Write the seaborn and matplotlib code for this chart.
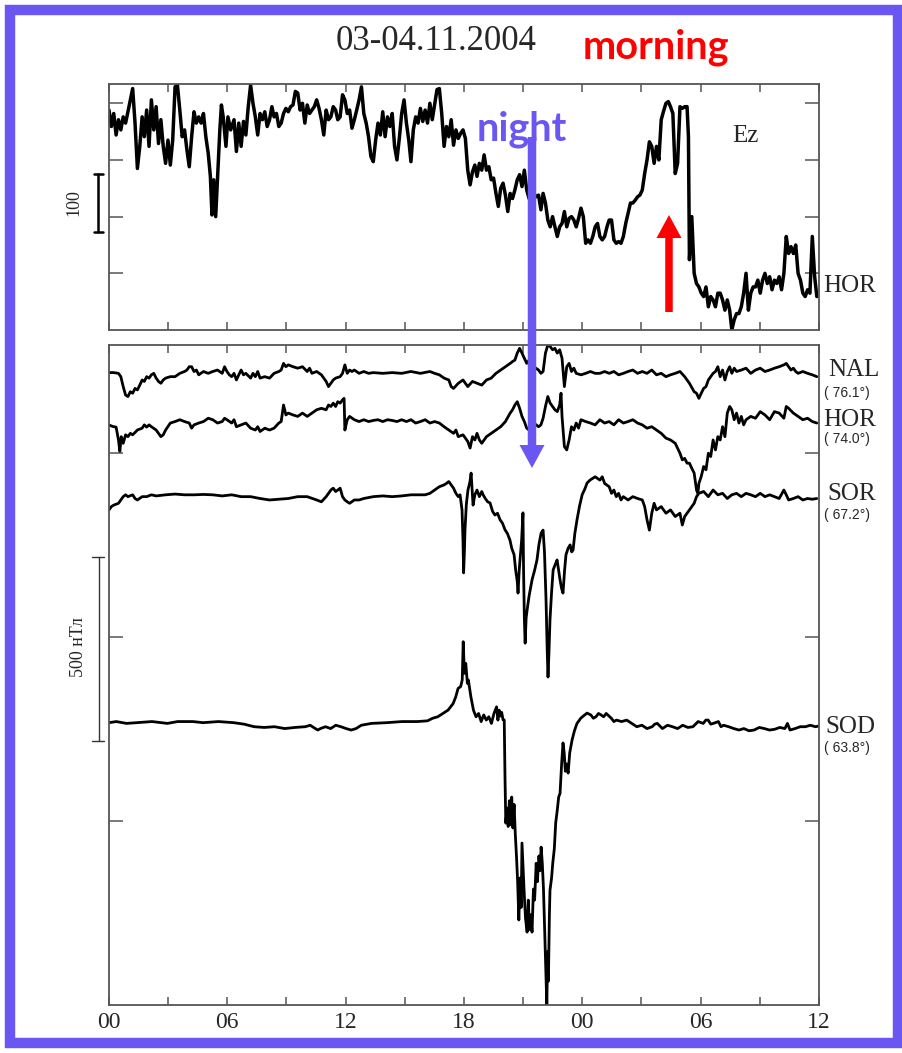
import numpy as np
import pandas as pd
import matplotlib
matplotlib.use("Agg")
import matplotlib.pyplot as plt
import seaborn as sns
from matplotlib.patches import Rectangle, FancyArrow
import matplotlib.transforms as mtransforms

# ---------------- data (hours from 00 UT 03.11.2004, values in nT) ----------------
title = "03-04.11.2004"
hour_ticks = [0, 6, 12, 18, 24, 30, 36]
hour_labels = ["00", "06", "12", "18", "00", "06", "12"]

# top panel: HOR Ez component
ez_t = [0.00,0.12,0.24,0.36,0.48,0.60,0.72,0.84,0.96,1.08,
        1.20,1.32,1.44,1.56,1.68,1.79,1.91,2.03,2.15,2.27,
        2.39,2.51,2.63,2.75,2.87,2.99,3.11,3.23,3.35,3.47,
        3.59,3.71,3.83,3.95,4.07,4.19,4.31,4.43,4.55,4.67,
        4.79,4.91,5.03,5.14,5.22,5.31,5.41,5.50,5.62,5.70,
        5.79,5.93,6.03,6.17,6.34,6.46,6.58,6.70,6.82,6.94,
        7.06,7.18,7.30,7.42,7.54,7.66,7.78,7.90,8.02,8.14,
        8.26,8.37,8.49,8.61,8.73,8.85,8.97,9.09,9.21,9.33,
        9.45,9.57,9.69,9.81,9.93,10.05,10.17,10.29,10.41,10.53,
        10.65,10.77,10.89,11.01,11.13,11.25,11.37,11.49,11.60,11.72,
        11.84,11.96,12.08,12.20,12.32,12.44,12.56,12.68,12.80,12.92,
        13.04,13.16,13.28,13.40,13.52,13.64,13.76,13.88,14.00,14.12,
        14.24,14.36,14.48,14.60,14.72,14.84,14.96,15.08,15.20,15.31,
        15.43,15.55,15.67,15.79,15.91,16.03,16.15,16.27,16.39,16.51,
        16.63,16.75,16.87,16.99,17.11,17.23,17.35,17.47,17.59,17.71,
        17.83,17.95,18.07,18.19,18.31,18.43,18.55,18.66,18.78,18.90,
        19.02,19.14,19.26,19.38,19.50,19.62,19.74,19.86,19.98,20.10,
        20.22,20.34,20.46,20.58,20.70,20.82,20.94,21.06,21.18,21.30,
        21.42,21.54,21.66,21.78,21.90,22.01,22.13,22.25,22.37,22.49,
        22.61,22.73,22.85,22.97,23.09,23.21,23.33,23.45,23.57,23.69,
        23.81,23.93,24.05,24.17,24.29,24.41,24.53,24.65,24.77,24.89,
        25.01,25.13,25.25,25.36,25.48,25.60,25.72,25.84,25.96,26.08,
        26.20,26.32,26.44,26.56,26.68,26.80,26.92,27.04,27.16,27.28,
        27.40,27.52,27.64,27.76,27.88,28.00,28.11,28.24,28.36,28.47,
        28.59,28.71,28.83,28.95,29.07,29.19,29.31,29.38,29.43,29.55,
        29.67,29.79,29.91,30.03,30.15,30.27,30.39,30.51,30.63,30.75,
        30.87,30.99,31.11,31.23,31.35,31.47,31.58,31.70,31.82,31.94,
        32.06,32.18,32.30,32.42,32.54,32.66,32.78,32.90,33.02,33.14,
        33.26,33.38,33.50,33.62,33.74,33.86,33.98,34.10,34.22,34.34,
        34.46,34.58,34.70,34.82,34.94,35.06,35.18,35.30,35.42,35.54,
        35.66,35.78,35.89]
ez_v = [188,159,182,144,171,153,176,165,185,206,
        226,165,85,124,176,141,188,124,206,153,
        194,129,171,124,94,135,91,135,229,232,
        188,141,153,118,88,141,185,165,176,165,
        182,141,112,71,3,65,0,65,153,197,
        176,124,176,153,171,115,165,124,168,144,
        194,232,200,176,144,182,171,185,159,171,
        194,176,182,159,165,182,191,185,194,197,
        221,218,188,200,165,197,182,188,194,206,
        191,171,144,188,171,176,194,188,171,176,
        215,206,182,188,156,171,188,206,229,182,
        165,141,106,97,135,165,144,185,141,176,
        159,182,124,100,138,182,206,165,135,97,
        153,176,165,191,168,188,165,200,171,197,
        224,226,182,124,159,141,171,126,153,138,
        147,153,138,82,56,79,91,71,94,82,
        109,82,88,65,68,41,18,50,59,38,
        9,41,32,47,65,74,53,82,47,32,
        26,41,35,38,12,41,24,-6,-18,0,
        -18,-35,-18,-12,9,-18,-3,0,-6,-18,
        -3,15,0,-47,-41,-47,-35,-18,-12,-35,
        -41,-35,-18,-6,-6,-41,-47,-44,-47,-35,
        -12,6,24,24,29,35,38,47,76,100,
        132,124,94,124,100,171,185,200,203,194,
        182,76,94,194,191,194,194,141,-76,0,
        -100,-118,-124,-135,-141,-124,-159,-141,-147,-159,
        -135,-135,-147,-165,-147,-165,-200,-182,-171,-171,
        -159,-135,-100,-165,-135,-124,-124,-112,-135,-112,
        -100,-118,-106,-129,-112,-118,-106,-129,-100,-35,
        -65,-53,-65,-50,-100,-112,-135,-141,-129,-135,
        -35,-106,-141]

# bottom panel: variations of the meridian chain (nT, relative to own baseline)
stations = ["NAL", "HOR", "SOR", "SOD"]
latitudes = ["76.1°", "74.0°", "67.2°", "63.8°"]

nal_t = [0.00,0.24,0.48,0.60,0.72,0.84,0.96,1.08,1.20,1.32,
         1.44,1.56,1.68,1.79,1.91,2.03,2.15,2.27,2.39,2.51,
         2.63,2.75,2.87,3.11,3.35,3.59,3.83,3.95,4.07,4.19,
         4.31,4.43,4.55,4.79,5.03,5.26,5.50,5.74,5.86,5.98,
         6.10,6.22,6.34,6.46,6.58,6.70,6.82,6.94,7.18,7.30,
         7.42,7.54,7.66,7.90,8.14,8.37,8.61,8.73,8.85,8.97,
         9.09,9.33,9.57,9.81,10.05,10.17,10.29,10.53,10.77,11.01,
         11.13,11.25,11.37,11.49,11.72,11.84,11.96,12.08,12.20,12.32,
         12.44,12.68,12.92,13.16,13.40,13.88,14.36,14.84,15.31,15.79,
         16.27,16.51,16.75,16.99,17.23,17.35,17.47,17.71,17.95,18.07,
         18.19,18.43,18.66,18.90,19.14,19.38,19.62,19.86,20.10,20.34,
         20.46,20.58,20.70,20.82,20.94,21.06,21.18,21.30,21.54,21.78,
         21.90,22.01,22.13,22.25,22.37,22.49,22.61,22.73,22.85,22.97,
         23.09,23.21,23.33,23.45,23.57,23.69,23.93,24.17,24.41,24.65,
         24.89,25.13,25.36,25.60,25.84,26.08,26.32,26.56,26.80,27.04,
         27.28,27.52,27.76,28.00,28.24,28.47,28.71,28.95,29.19,29.43,
         29.67,29.79,29.91,30.03,30.15,30.27,30.39,30.51,30.63,30.75,
         30.87,30.99,31.11,31.23,31.35,31.47,31.58,31.70,31.82,32.06,
         32.30,32.54,32.78,33.02,33.26,33.50,33.74,33.98,34.22,34.34,
         34.46,34.58,34.70,34.82,34.94,35.18,35.42,35.66,35.89]
nal_v = [0,0,-2,-11,-38,-61,-65,-52,-56,-43,
         -47,-34,-20,-24,-11,-15,-6,-2,-15,-24,
         -29,-20,-15,-11,-11,-2,3,7,16,16,
         3,7,-6,3,-2,3,7,-2,16,3,
         -6,-11,-2,-20,-6,7,-6,-2,-15,-2,
         -11,3,-15,-11,-15,-2,3,7,25,16,
         21,16,12,16,3,12,-2,3,-6,-24,
         -38,-29,-20,-15,-11,-2,21,-2,7,3,
         7,-2,3,-2,0,-2,0,-2,3,-2,
         3,-2,-6,-15,-20,-38,-43,-29,-20,-29,
         -38,-24,-29,-34,-20,-15,-2,7,16,25,
         30,34,53,66,53,39,25,34,16,7,
         -2,3,53,75,71,62,66,53,62,39,
         -38,16,25,3,12,-2,-6,-2,3,-2,
         -2,3,-2,3,-6,-2,3,7,-2,3,
         -2,7,-6,-2,-11,-6,-2,3,-11,-29,
         -52,-56,-70,-56,-43,-38,-20,-11,-2,3,
         16,-11,7,-20,3,16,-2,12,3,7,
         12,-2,7,12,3,7,12,16,21,25,
         16,7,12,3,-2,3,-2,-6,-11]

hor_t = [0.00,0.12,0.24,0.36,0.48,0.55,0.62,0.72,0.84,0.96,
         1.08,1.20,1.44,1.68,1.79,1.91,2.03,2.15,2.39,2.51,
         2.63,2.75,2.87,3.11,3.35,3.59,3.83,4.07,4.19,4.31,
         4.55,4.79,5.03,5.26,5.50,5.74,5.86,5.98,6.22,6.34,
         6.46,6.70,6.94,7.18,7.42,7.54,7.66,7.90,8.14,8.37,
         8.61,8.73,8.85,8.97,9.09,9.33,9.57,9.81,10.05,10.29,
         10.53,10.77,11.01,11.13,11.25,11.37,11.49,11.60,11.72,11.84,
         11.92,11.96,12.08,12.20,12.44,12.68,12.92,13.16,13.40,13.64,
         13.88,14.12,14.36,14.60,14.84,15.08,15.31,15.55,15.79,16.03,
         16.27,16.51,16.75,16.99,17.23,17.47,17.59,17.71,17.95,18.19,
         18.31,18.43,18.55,18.66,18.78,18.90,19.14,19.38,19.62,19.86,
         20.10,20.34,20.46,20.58,20.70,20.82,20.94,21.06,21.18,21.30,
         21.54,21.78,21.90,22.01,22.13,22.25,22.37,22.49,22.61,22.73,
         22.85,22.92,22.97,23.09,23.21,23.33,23.45,23.57,23.69,23.81,
         23.93,24.17,24.41,24.65,24.89,25.13,25.36,25.60,25.84,26.08,
         26.32,26.56,26.80,27.04,27.28,27.52,27.76,28.00,28.24,28.47,
         28.71,28.95,29.07,29.19,29.31,29.43,29.55,29.67,29.79,29.86,
         29.91,30.03,30.15,30.27,30.39,30.51,30.63,30.75,30.87,30.99,
         31.11,31.23,31.35,31.47,31.58,31.70,31.82,31.94,32.06,32.18,
         32.30,32.54,32.78,33.02,33.26,33.50,33.74,33.98,34.22,34.34,
         34.46,34.70,34.94,35.18,35.42,35.66,35.89]
hor_v = [0,-3,-5,-6,-41,-72,-32,-50,-27,-32,
         -23,-27,-14,-9,0,-6,0,-5,-14,-23,
         -32,-27,-14,5,9,14,9,5,-9,0,
         5,9,18,14,5,9,18,14,5,14,
         -5,0,5,-9,-14,-5,-18,-9,-14,-9,
         5,9,54,27,32,27,23,32,23,32,
         41,45,41,54,50,59,50,63,59,68,
         72,-14,14,23,14,9,14,9,12,14,
         9,14,12,9,14,9,14,5,9,14,
         5,9,5,-5,-14,-23,-14,-32,-27,-45,
         -63,-32,-41,-23,-41,-50,-32,-23,-14,-5,
         9,32,41,54,63,45,23,9,-9,-14,
         5,-5,0,18,50,77,59,50,41,36,
         54,86,23,-59,-68,-41,-5,-14,5,-9,
         14,9,5,0,14,5,9,0,14,5,
         9,14,5,0,-9,-5,-14,-23,-36,-41,
         -50,-77,-95,-91,-104,-104,-118,-131,-177,-186,
         -159,-140,-113,-122,-77,-86,-41,-68,-32,-41,
         -5,-32,32,50,41,14,32,5,23,0,
         14,23,18,36,27,14,36,32,18,50,
         45,32,23,14,18,9,5]

sor_t = [0.00,0.12,0.24,0.48,0.60,0.72,0.84,0.96,1.20,1.32,
         1.44,1.68,1.91,2.15,2.39,2.87,3.35,3.83,4.31,4.79,
         5.26,5.74,6.22,6.70,7.18,7.66,8.14,8.61,9.09,9.57,
         10.05,10.53,10.77,11.01,11.13,11.25,11.37,11.49,11.60,11.72,
         11.84,11.96,12.08,12.20,12.44,12.68,12.92,13.40,13.88,14.36,
         14.84,15.31,15.79,16.03,16.27,16.51,16.75,16.99,17.11,17.23,
         17.35,17.47,17.59,
         17.71,17.80,17.90,17.95,17.98,18.02,18.05,18.12,18.20,18.30,
         18.36,18.42,18.46,18.55,18.66,18.78,18.90,18.97,19.08,19.20,
         19.32,19.45,19.57,19.70,19.83,19.95,20.08,20.20,20.33,20.42,
         20.54,20.62,20.70,20.74,20.80,20.84,20.92,20.99,21.02,21.06,
         21.10,21.15,21.20,21.30,21.45,21.58,21.70,21.80,21.91,22.01,
         22.08,22.16,22.22,22.26,22.31,22.36,22.44,22.52,22.62,22.72,
         22.80,22.87,22.95,23.02,23.10,23.17,23.28,23.38,23.46,23.53,
         23.62,23.73,23.86,23.99,24.12,24.24,24.39,
         24.65,24.89,25.01,25.13,25.36,25.48,25.60,
         25.72,25.84,25.96,26.08,26.32,26.56,26.80,27.04,27.16,27.28,
         27.40,27.52,27.64,27.76,28.00,28.24,28.47,28.71,28.95,29.07,
         29.19,29.43,29.67,29.79,29.91,30.15,30.39,30.63,30.87,31.11,
         31.35,31.58,31.82,32.06,32.30,32.54,32.78,33.02,33.26,33.50,
         33.74,33.98,34.22,34.34,34.46,34.70,34.94,35.18,35.42,35.66,
         35.89]
sor_v = [-36,-27,-23,-18,-9,0,5,0,5,-5,
         -9,0,0,5,2,5,7,5,5,6,
         5,2,5,0,0,-5,-9,-7,-5,0,
         0,-9,-14,0,9,18,23,14,18,23,
         0,-9,-14,-18,-9,-9,-5,0,2,0,
         2,5,5,5,9,18,27,32,36,41,
         32,23,9,
         0,5,-36,-120,-207,-150,-90,-20,18,40,
         64,10,-23,5,18,0,14,5,-5,-14,
         -17,-40,-50,-45,-63,-72,-90,-100,-118,-140,
         -158,-200,-230,-262,-200,-172,-120,-44,-200,-330,
         -398,-330,-308,-270,-226,-200,-172,-130,-99,-91,
         -150,-281,-420,-490,-420,-335,-260,-199,-185,-172,
         -200,-226,-250,-262,-200,-158,-140,-131,-150,-145,
         -100,-63,-25,5,20,37,45,
         54,45,54,36,27,9,18,
         0,9,-9,0,-9,0,-5,-9,-27,-63,
         -91,-45,-18,-36,-27,-45,-36,-54,-45,-77,
         -54,-36,-18,0,9,14,0,18,5,9,
         -5,5,9,0,9,5,0,9,0,5,
         0,-5,18,5,-9,-5,0,-9,-5,-7,
         -5]

sod_t = [0.00,0.37,0.89,1.41,2.18,2.96,3.48,4.25,4.77,5.55,
         6.32,6.84,7.36,7.87,8.39,8.91,9.43,9.95,10.20,10.46,
         10.59,10.72,10.98,11.24,11.50,11.76,12.02,12.28,12.53,12.79,
         13.31,14.09,14.86,15.64,16.15,16.41,16.67,16.93,17.19,17.45,
         17.58,17.70,17.83,17.91,17.96,18.02,18.09,18.17,18.22,18.35,
         18.48,18.61,18.74,18.87,19.00,19.13,19.26,19.39,
         19.52,19.65,19.72,19.78,19.85,19.91,19.98,20.04,20.08,20.12,
         20.18,20.24,20.30,20.36,20.42,20.48,20.54,20.60,20.66,20.72,
         20.78,20.84,20.90,20.94,21.00,21.06,21.12,21.20,21.26,21.32,
         21.38,21.45,21.52,21.58,21.66,21.72,21.80,21.86,21.91,21.97,
         22.03,22.09,22.14,22.20,22.24,22.28,22.33,22.36,22.44,22.50,
         22.58,22.65,22.72,22.80,22.87,22.95,23.02,23.08,23.14,23.20,
         23.28,23.36,23.48,23.60,23.73,23.92,24.05,24.24,
         24.43,24.56,24.69,24.82,24.95,25.08,25.21,25.47,25.60,25.73,25.99,26.25,
         26.50,26.76,27.02,27.28,27.54,27.67,27.80,28.06,28.32,28.57,
         28.83,29.09,29.35,29.61,29.87,30.13,30.26,30.38,30.51,30.64,
         30.90,31.03,31.16,31.42,31.68,31.94,32.19,32.45,32.71,32.97,
         33.23,33.49,33.75,34.01,34.27,34.40,34.53,34.79,35.05,35.31,
         35.56,35.82,36.00]
sod_v = [2,5,0,2,5,0,5,5,2,5,
         2,-2,-9,-11,-9,-14,-11,-9,-5,-14,
         -18,-14,-9,-14,-5,-9,-14,-18,-14,-5,
         0,2,5,5,7,14,18,27,36,54,
         72,95,100,118,222,136,163,109,118,72,
         36,18,27,5,23,9,18,0,
         27,45,9,36,20,30,10,9,-150,-271,
         -230,-280,-210,-275,-200,-284,-220,-300,-360,-430,
         -534,-420,-500,-325,-400,-470,-530,-567,-480,-560,
         -520,-567,-450,-480,-380,-430,-360,-400,-336,-380,
         -450,-560,-650,-766,-620,-700,-520,-453,-420,-380,
         -340,-270,-240,-200,-190,-110,-53,-80,-130,-110,
         -135,-80,-45,-20,0,14,20,28,
         23,14,18,27,23,18,27,14,5,9,5,9,
         0,-9,-5,-14,-9,-2,0,-14,-5,-9,
         -14,-5,-11,-9,5,0,9,9,-2,0,
         5,-9,-5,-9,-14,-18,-14,-20,-18,-11,
         -14,-18,-16,-11,-14,0,-18,-14,-9,-9,
         -5,-9,-7]

# ---------------- layout / style ----------------
station_offsets = [718, 576, 381, -235]   # vertical stacking of the traces (nT)
BLUE = "#6a56f0"
RED = "#ff0000"
SPINE = "#555555"

sns.set_style("white")
plt.rcParams["font.family"] = ["Liberation Serif", "DejaVu Serif"]

W, H = 903, 1053
fig = plt.figure(figsize=(W / 100, H / 100), dpi=100)
fig.patch.set_facecolor("white")


def fbox(x0, y0, x1, y1):
    return [x0 / W, 1 - y1 / H, (x1 - x0) / W, (y1 - y0) / H]


ax_top = fig.add_axes(fbox(109, 84, 819, 330))
ax_bot = fig.add_axes(fbox(109, 345, 819, 1005))

# top trace
df_ez = pd.DataFrame({"t": ez_t, "v": ez_v})
sns.lineplot(data=df_ez, x="t", y="v", ax=ax_top, color="black", lw=2.5,
             sort=False, estimator=None)

# bottom traces
series = {"NAL": (nal_t, nal_v), "HOR": (hor_t, hor_v),
          "SOR": (sor_t, sor_v), "SOD": (sod_t, sod_v)}
frames = []
for name, off in zip(stations, station_offsets):
    tt, vv = series[name]
    frames.append(pd.DataFrame({"t": tt, "y": np.asarray(vv) + off, "station": name}))
df_bot = pd.concat(frames, ignore_index=True)
sns.lineplot(data=df_bot, x="t", y="y", units="station", estimator=None, sort=False,
             ax=ax_bot, color="black", lw=2.0)

ax_top.set_ylim(-200, 234)
ax_top.set_yticks([-100, 0, 100, 200])
ax_bot.set_ylim(-1000, 793)
ax_bot.set_yticks([-500, 0, 500])

for ax in (ax_top, ax_bot):
    ax.set_xlim(0, 36)
    ax.set_xticks(hour_ticks)
    ax.set_xticks(np.arange(3, 36, 6), minor=True)
    ax.set_xlabel("")
    ax.set_ylabel("")
    ax.set_yticklabels([])
    ax.grid(False)
    ax.tick_params(axis="x", which="both", direction="in", length=5.5, width=1.1,
                   color=SPINE, top=True, bottom=True)
    ax.tick_params(axis="y", which="both", direction="in", length=10, width=1.1,
                   color=SPINE, left=True, right=True)
    for s in ax.spines.values():
        s.set_color(SPINE)
        s.set_linewidth(1.3)
    if ax.get_legend() is not None:
        ax.get_legend().remove()

ax_top.set_xticklabels([])
ax_bot.set_xticklabels(hour_labels, fontsize=17, fontfamily="Liberation Serif")
ax_bot.tick_params(axis="x", which="major", pad=5)

# scale bars
tr_top = mtransforms.blended_transform_factory(ax_top.transAxes, ax_top.transData)
ax_top.plot([-0.0155, -0.0155], [-27, 75], color="black", lw=1.8, transform=tr_top, clip_on=False)
for yv in (-27, 75):
    ax_top.plot([-0.0215, -0.0085], [yv, yv], color="black", lw=1.8, transform=tr_top, clip_on=False)
tr_bot = mtransforms.blended_transform_factory(ax_bot.transAxes, ax_bot.transData)
ax_bot.plot([-0.0134, -0.0134], [-283, 217], color="#333333", lw=1.0, transform=tr_bot, clip_on=False)
for yv in (-283, 217):
    ax_bot.plot([-0.024, -0.007], [yv, yv], color="#333333", lw=1.0, transform=tr_bot, clip_on=False)

# ---------------- overlay in pixel coordinates ----------------
ov = fig.add_axes([0, 0, 1, 1], zorder=10)
ov.set_xlim(0, W)
ov.set_ylim(H, 0)
ov.axis("off")
ov.patch.set_alpha(0)

ov.add_patch(Rectangle((10, 9.5), 888, 1033.5, fill=False, lw=7.5, edgecolor=BLUE))

ov.text(436, 50, title, ha="center", va="baseline", fontsize=25, family="Liberation Serif")
ov.text(583, 59, "morning", ha="left", va="baseline", fontsize=28.5, color=RED,
        family="Lato", fontweight="bold")
ov.text(477, 141, "night", ha="left", va="baseline", fontsize=28.5, color=BLUE,
        family="Lato", fontweight="bold")

ov.text(732, 141.5, "Ez", ha="left", va="baseline", fontsize=18, family="Liberation Serif")
ov.text(823, 291.5, "HOR", ha="left", va="baseline", fontsize=18, family="Liberation Serif")

name_pos = [(828, 376), (823, 426.5), (827, 500), (825, 733)]
lat_pos = [(824, 396.5), (824, 442.5), (824, 519.5), (824, 752)]
for name, lat, (xn, yn), (xl, yl) in zip(stations, latitudes, name_pos, lat_pos):
    ov.text(xn, yn, name, ha="left", va="baseline", fontsize=18, family="Liberation Serif")
    ov.text(xl, yl, "( " + lat + ")", ha="left", va="baseline", fontsize=10,
            family=["Liberation Sans", "DejaVu Sans"])

ov.text(74, 203, "100", ha="center", va="center", rotation=90, fontsize=13,
        family="Liberation Serif")
ov.text(79, 647, "500 нТл", ha="center", va="center", rotation=90, fontsize=13,
        family="Liberation Serif")

# arrows
ov.add_patch(FancyArrow(532, 137, 0, 331, width=8.5, head_width=25, head_length=23,
                        length_includes_head=True, color=BLUE, lw=0))
ov.add_patch(FancyArrow(669, 312, 0, -97, width=7.5, head_width=25, head_length=23,
                        length_includes_head=True, color=RED, lw=0))

fig.savefig("out.png", dpi=100, facecolor="white")
